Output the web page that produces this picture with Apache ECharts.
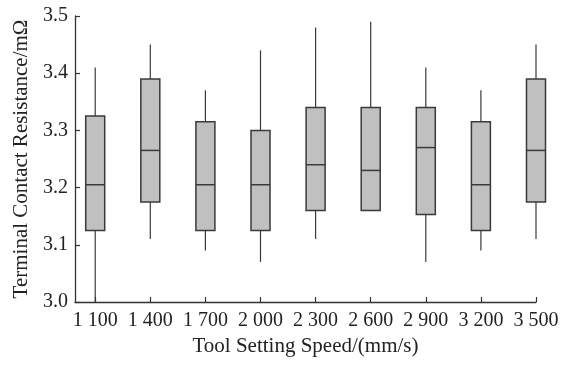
<!DOCTYPE html>
<html><head><meta charset="utf-8">
<script src="https://cdn.jsdelivr.net/npm/echarts@6/dist/echarts.min.js"></script>
<style>html,body{margin:0;padding:0;background:#fff}#c{width:565px;height:365px}</style>
</head><body><div id="c"></div>
<script>
const speeds = [1100, 1400, 1700, 2000, 2300, 2600, 2900, 3200, 3500];
const minVals    = [3.00, 3.11, 3.09, 3.07, 3.11, 3.16, 3.07, 3.09, 3.11];
const q1Vals     = [3.125, 3.175, 3.125, 3.125, 3.16, 3.16, 3.153, 3.125, 3.175];
const medianVals = [3.205, 3.265, 3.205, 3.205, 3.24, 3.23, 3.27, 3.205, 3.265];
const q3Vals     = [3.325, 3.39, 3.315, 3.30, 3.34, 3.34, 3.34, 3.315, 3.39];
const maxVals    = [3.41, 3.45, 3.37, 3.44, 3.48, 3.49, 3.41, 3.37, 3.45];
const yTicks = [3.0, 3.1, 3.2, 3.3, 3.4, 3.5];

const boxData = speeds.map((s, i) => [s, minVals[i], q1Vals[i], medianVals[i], q3Vals[i], maxVals[i]]);
const font = '"Liberation Serif", "DejaVu Serif", serif';
const lineColor = '#333';

const chart = echarts.init(document.getElementById('c'));
chart.setOption({
  animation: false,
  backgroundColor: '#fff',
  grid: { left: 75, right: 29, top: 16, bottom: 63, containLabel: false },
  xAxis: {
    type: 'value', min: 990, max: 3500,
    name: 'Tool Setting Speed/(mm/s)', nameLocation: 'middle', nameGap: 33,
    nameTextStyle: { fontFamily: font, fontSize: 21, color: '#222' },
    splitLine: { show: false },
    axisLine: { show: true, lineStyle: { color: lineColor, width: 1.3 } },
    axisTick: { show: true, inside: true, length: 5, customValues: speeds, lineStyle: { color: lineColor, width: 1.2 } },
    axisLabel: {
      customValues: speeds, fontFamily: font, fontSize: 20, color: '#222', margin: 9,
      formatter: v => { const s = String(v); return s.slice(0, s.length - 3) + ' ' + s.slice(-3); }
    }
  },
  yAxis: {
    type: 'value', min: 3.0, max: 3.5, interval: 0.1,
    name: 'Terminal Contact Resistance/mΩ', nameLocation: 'middle', nameGap: 42,
    nameTextStyle: { fontFamily: font, fontSize: 21, color: '#222' },
    splitLine: { show: false },
    axisLine: { show: true, lineStyle: { color: lineColor, width: 1.3 } },
    axisTick: { show: true, inside: true, length: 5, lineStyle: { color: lineColor, width: 1.2 } },
    axisLabel: { fontFamily: font, fontSize: 20, color: '#222', margin: 7, formatter: v => v.toFixed(1) }
  },
  series: [{
    type: 'custom',
    data: boxData,
    encode: { x: 0, y: [1, 2, 3, 4, 5] },
    renderItem: function (params, api) {
      const x = api.value(0);
      const pMin = api.coord([x, api.value(1)]);
      const pQ1 = api.coord([x, api.value(2)]);
      const pMed = api.coord([x, api.value(3)]);
      const pQ3 = api.coord([x, api.value(4)]);
      const pMax = api.coord([x, api.value(5)]);
      const hw = 9.5;
      const cx = pMed[0];
      const stroke = '#3a3a3a';
      return {
        type: 'group',
        children: [
          { type: 'line', shape: { x1: cx, y1: pMin[1], x2: cx, y2: pMax[1] }, style: { stroke: stroke, lineWidth: 1.2 } },
          { type: 'rect', shape: { x: cx - hw, y: pQ3[1], width: hw * 2, height: pQ1[1] - pQ3[1] }, style: { fill: '#c0c0c0', stroke: stroke, lineWidth: 1.5 } },
          { type: 'line', shape: { x1: cx - hw, y1: pMed[1], x2: cx + hw, y2: pMed[1] }, style: { stroke: stroke, lineWidth: 1.5 } }
        ]
      };
    }
  }]
});
</script>
</body></html>
